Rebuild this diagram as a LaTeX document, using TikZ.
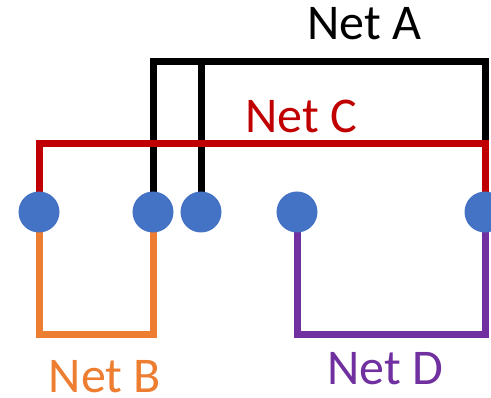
\documentclass[tikz,border=0pt]{standalone}
\usepackage{fontspec}
\setmainfont{Carlito}
\definecolor{netred}{HTML}{C00000}
\definecolor{netorange}{HTML}{ED7D31}
\definecolor{netpurple}{HTML}{7030A0}
\definecolor{pinblue}{HTML}{4472C4}
\begin{document}
\begin{tikzpicture}[x=1pt,y=-1pt,
  wire/.style={line width=7pt,line join=miter},
  pin/.style={circle,fill=pinblue,minimum size=41pt,inner sep=0pt},
  lbl/.style={anchor=base,font=\fontsize{50}{60}\selectfont,inner sep=0pt}]
\useasboundingbox (0,0) rectangle (491,398);
\clip (0,0) rectangle (491,398);
% pin positions
\coordinate (c1) at (39,212);
\coordinate (c2) at (153,212);
\coordinate (c3) at (201,212);
\coordinate (c4) at (297,212);
\coordinate (c5) at (485,212);
% corner points
\coordinate (aL) at (153,62);
\coordinate (aM) at (201,62);
\coordinate (aR) at (485,62);
\coordinate (cL) at (39,144);
\coordinate (cR) at (485,144);
\coordinate (bL) at (39,335);
\coordinate (bR) at (153,335);
\coordinate (dL) at (297,335);
\coordinate (dR) at (485,335);
% Net A
\draw[wire,black] (c2) -- (aL) -- (aR) -- (cR);
\draw[wire,black] (c3) -- (aM);
% Net C
\draw[wire,netred] (c1) -- (cL) -- (cR) -- (c5);
% Net B
\draw[wire,netorange] (c1) -- (bL) -- (bR) -- (c2);
% Net D
\draw[wire,netpurple] (c4) -- (dL) -- (dR) -- (c5);
% pins
\node[pin] (p1) at (c1) {};
\node[pin] (p2) at (c2) {};
\node[pin] (p3) at (c3) {};
\node[pin] (p4) at (c4) {};
\node[pin] (p5) at (c5) {};
% labels
\node[lbl,black] (la) at (364,40) {Net A};
\node[lbl,netred] (lc) at (301,133) {Net C};
\node[lbl,netorange] (lb) at (105,393) {Net B};
\node[lbl,netpurple] (ld) at (385,385) {Net D};
\end{tikzpicture}
\end{document}
